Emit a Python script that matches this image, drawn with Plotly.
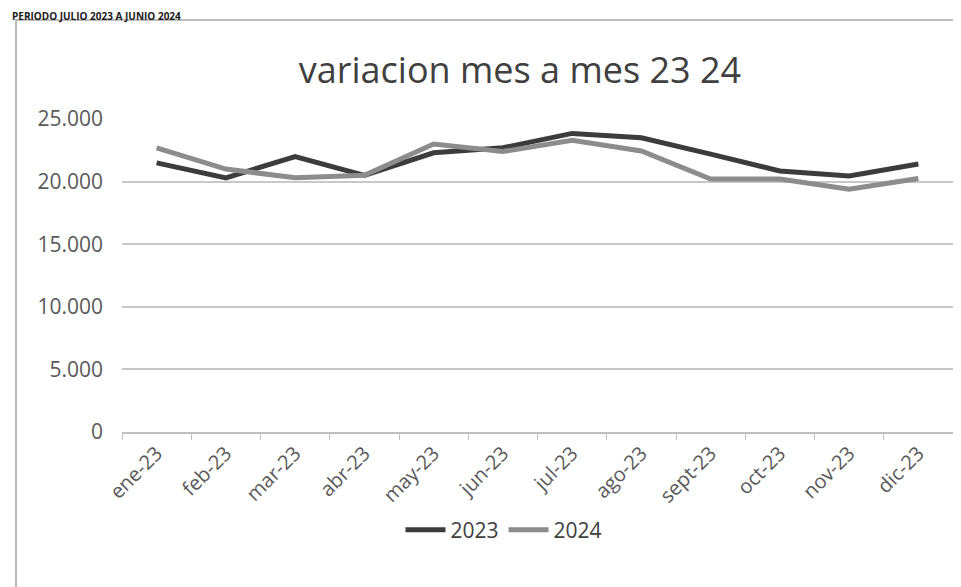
import plotly.graph_objects as go

months = ["ene-23", "feb-23", "mar-23", "abr-23", "may-23", "jun-23",
          "jul-23", "ago-23", "sept-23", "oct-23", "nov-23", "dic-23"]
serie_2023 = [21500, 20300, 22000, 20500, 22300, 22700, 23850, 23500, 22200, 20850, 20450, 21400]
serie_2024 = [22700, 21000, 20300, 20500, 23000, 22400, 23300, 22450, 20200, 20200, 19400, 20250]
y_ticks = [0, 5000, 10000, 15000, 20000, 25000]

FONT = "Open Sans"
L, R, T, B = 114, 16, 111, 163
W, H = 961, 587
pw, ph = W - L - R, H - T - B

def px_x(p):
    return (p - L) / pw

def px_y(p):
    return (H - B - p) / ph

fig = go.Figure()
fig.add_trace(go.Scatter(x=months, y=serie_2023, name="2023", mode="lines",
                         line=dict(color="#3c3c3c", width=5)))
fig.add_trace(go.Scatter(x=months, y=serie_2024, name="2024", mode="lines",
                         line=dict(color="#8c8c8c", width=5)))

fig.update_layout(
    width=W, height=H,
    margin=dict(l=L, r=R, t=T, b=B),
    paper_bgcolor="white", plot_bgcolor="white",
    separators=",.",
    font=dict(family=FONT, color="#595959", size=18),
    title=dict(text="variacion mes a mes 23 24", x=(512 / W), xanchor="center",
               y=1 - 62 / H, yanchor="middle",
               font=dict(family=FONT, size=36, color="#404040")),
    showlegend=True,
    legend=dict(orientation="h", x=px_x(496), xanchor="center",
                y=px_y(522), yanchor="middle",
                font=dict(family=FONT, size=21, color="#404040"),
                itemwidth=40, bgcolor="rgba(0,0,0,0)"),
    xaxis=dict(type="category", showgrid=False, showline=True,
               linecolor="#bfbfbf", linewidth=1.5,
               ticks="outside", tickson="boundaries", ticklen=6,
               tickcolor="#bfbfbf", tickangle=-45,
               tickfont=dict(family=FONT, size=20, color="#595959"),
               range=[-0.5, 11.5]),
    yaxis=dict(range=[0, 25000], tickvals=y_ticks, tickformat=",d",
               showgrid=True, gridcolor="#c8c8c8", gridwidth=1.5,
               zeroline=False, showline=False, ticks="",
               tickfont=dict(family=FONT, size=21, color="#595959"),
               ticklabelstandoff=18),
    shapes=[dict(type="rect", xref="paper", yref="paper",
                 x0=px_x(8), x1=px_x(957), y0=px_y(600), y1=px_y(12),
                 line=dict(color="#a6a6a6", width=1.5), layer="below")],
    annotations=[dict(text="<b>PERIODO JULIO 2023 A JUNIO 2024</b>",
                      xref="paper", yref="paper", x=px_x(2), y=px_y(-1),
                      xanchor="left", yanchor="top", showarrow=False,
                      font=dict(family=FONT, size=10, color="#1a1a1a"))],
)

fig.write_html("out.html")
